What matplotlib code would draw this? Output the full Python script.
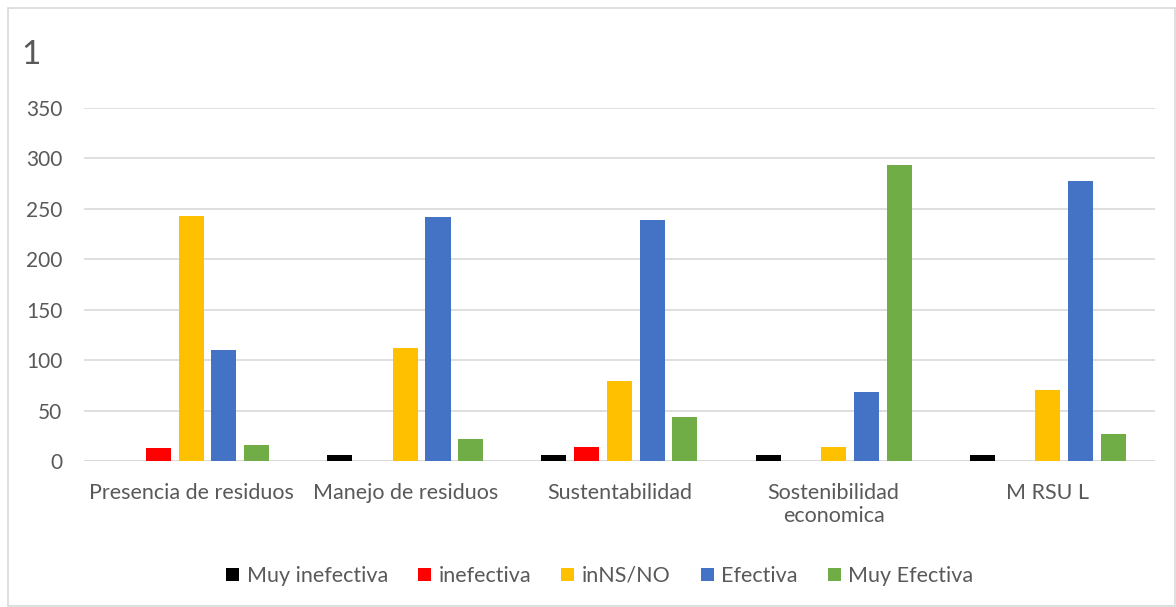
import numpy as np
import matplotlib
matplotlib.use("Agg")
import matplotlib.pyplot as plt
from matplotlib.patches import Rectangle

# Datos
categorias = ["Presencia de residuos", "Manejo de residuos", "Sustentabilidad",
              "Sostenibilidad\neconomica", "M RSU L"]
series = ["Muy inefectiva", "inefectiva", "inNS/NO", "Efectiva", "Muy Efectiva"]
muy_inefectiva = [0, 6, 6, 6, 6]
inefectiva = [13, 0, 14, 0, 0]
ns_no = [243, 112, 79, 14, 70]
efectiva = [110, 242, 239, 68, 278]
muy_efectiva = [16, 22, 44, 294, 27]
valores = [muy_inefectiva, inefectiva, ns_no, efectiva, muy_efectiva]
colores = ["#000000", "#FF0000", "#FFC000", "#4472C4", "#70AD47"]

plt.rcParams['font.family'] = ['Lato', 'DejaVu Sans']
gris = "#595959"

fig = plt.figure(figsize=(11.76, 6.07), dpi=100)
ax = fig.add_axes([0.0714, 0.2405, 0.9106, 0.5815])

x = np.arange(len(categorias))
paso = 0.153
ancho = 0.117
for i, (nombre, vals, c) in enumerate(zip(series, valores, colores)):
    ax.bar(x + (i - 2) * paso, vals, width=ancho, color=c, label=nombre, zorder=3)

ax.set_xlim(-0.5, len(categorias) - 0.5)
ax.set_ylim(0, 350)
ax.set_yticks(range(0, 351, 50))
ax.grid(axis='y', color='#D9D9D9', linewidth=1.2, zorder=0)
ax.set_xticks(x)
ax.set_xticklabels(categorias, fontsize=15.5)
ax.tick_params(axis='both', length=0, colors=gris)
ax.tick_params(axis='y', labelsize=15, pad=15.5)
ax.tick_params(axis='x', pad=16)
for s in ax.spines.values():
    s.set_visible(False)
ax.axhline(0, color='#D9D9D9', linewidth=1.2, zorder=2)

fig.text(21 / 1176, 1 - 55 / 607, "1", fontsize=24, color=gris, va='center', ha='left')

leg = fig.legend(loc='center', bbox_to_anchor=(0.51, 1 - 576 / 607), ncol=5,
                 frameon=False, fontsize=15.5, handlelength=0.6, handleheight=0.6,
                 handletextpad=0.35, columnspacing=1.4)
for t in leg.get_texts():
    t.set_color(gris)

fig.patches.append(Rectangle((8 / 1176, 0.002), 1 - 8 / 1176 - 0.001, 1 - 8 / 607 - 0.002,
                             transform=fig.transFigure, fill=False,
                             edgecolor='#D9D9D9', linewidth=1.2))

fig.savefig("out.png", dpi=100, facecolor='white')
